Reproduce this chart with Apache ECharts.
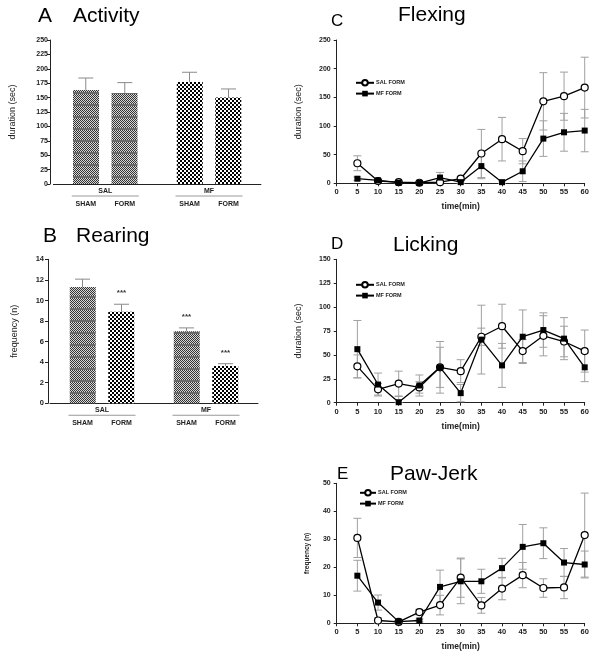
<!DOCTYPE html>
<html><head><meta charset="utf-8">
<script src="https://cdn.jsdelivr.net/npm/echarts@6/dist/echarts.min.js"></script>
<style>html,body{margin:0;padding:0;background:#fff}#c{width:600px;height:656px}</style>
</head><body><div id="c"></div>
<script>
// ---------- data ----------
const groups = ['SAL', 'MF'];
const subgroups = ['SHAM', 'FORM'];

const activitySham = [163, 177];
const activityShamErr = [21, 17];
const activityForm = [158, 150];
const activityFormErr = [18, 15];

const rearingSham = [11.3, 7.0];
const rearingShamErr = [0.77, 0.33];
const rearingForm = [8.9, 3.63];
const rearingFormErr = [0.73, 0.22];
const rearingShamSig = ['', '***'];
const rearingFormSig = ['***', '***'];

const timeMin = [5, 10, 15, 20, 25, 30, 35, 40, 45, 50, 55, 60];

const flexSal = [35, 4, 2, 1, 2, 8, 52, 77, 56, 143, 152, 167];
const flexSalErr = [13, 2, 1, 1, 1, 3, 42, 38, 22, 50, 42, 53];
const flexMf = [8, 5, 1, 0.5, 10, 2, 30, 2, 21, 78, 89, 92];
const flexMfErr = [3, 2, 1, 1, 9, 2, 22, 2, 18, 31, 33, 37];

const lickSal = [38, 14, 20, 16, 37, 33, 69, 80, 54, 70, 64, 54];
const lickSalErr = [12, 6, 13, 6, 21, 12, 9, 23, 12, 21, 16, 22];
const lickMf = [56, 19, 0.5, 18, 37, 10, 66, 39, 69, 76, 67, 37];
const lickMfErr = [30, 12, 6, 11, 27, 9, 36, 23, 28, 18, 22, 15];

const jerkSal = [30.5, 1, 0.5, 4, 6.5, 16.3, 6.4, 12.4, 17.2, 12.6, 12.8, 31.5];
const jerkSalErr = [7, 1, 0.5, 1, 3.5, 7, 2.8, 4, 4.5, 3.3, 4, 15];
const jerkMf = [17, 7.4, 0.6, 1, 13, 15, 15, 19.7, 27.3, 28.6, 21.7, 21];
const jerkMfErr = [5.5, 2.7, 0.5, 0.5, 6, 8, 4.3, 3.5, 8, 5.5, 5, 4.8];

// ---------- styling helpers ----------
const FONT = 'Liberation Sans';
function makePattern(kind) {
  const c = document.createElement('canvas');
  const g = c.getContext('2d');
  if (kind === 'grey') {
    c.width = 4; c.height = 12;
    g.fillStyle = '#d8d8d8'; g.fillRect(0, 0, 4, 12);
    for (let y = 0; y < 12; y++) for (let x = 0; x < 4; x++) {
      if ((x + y) % 2 === 0) { g.fillStyle = '#333'; g.fillRect(x, y, 1, 1); }
    }
    g.fillStyle = '#6a6a6a'; g.fillRect(0, 8, 4, 2);
  } else {
    c.width = 4; c.height = 4;
    g.fillStyle = '#fff'; g.fillRect(0, 0, 4, 4);
    g.fillStyle = '#000'; g.fillRect(0, 0, 2, 2); g.fillRect(2, 2, 2, 2);
  }
  return { image: c, repeat: 'repeat' };
}
const PGREY = makePattern('grey');
const PCHECK = makePattern('check');

const BAR_W = 26, BAR_GAP = '48%', HALF_SEP = 19.5;
const tickLabel = { fontSize: 7, fontWeight: 'bold', color: '#222', fontFamily: FONT };
const axisLine = { lineStyle: { color: '#222', width: 1 } };

function barCatAxis(gi) {
  return {
    type: 'category', gridIndex: gi, data: groups,
    axisLine: axisLine, axisTick: { show: false },
    axisLabel: {
      interval: 0, margin: 3,
      formatter: v => '{g|' + v + '}\n{ln|}\n{s|' + subgroups[0] + '}{s|' + subgroups[1] + '}',
      rich: {
        g: { fontSize: 7, fontWeight: 'bold', color: '#222', lineHeight: 8, fontFamily: FONT },
        ln: { width: 67, height: 1, lineHeight: 2, backgroundColor: '#999' },
        s: { width: 39, align: 'center', fontSize: 7, fontWeight: 'bold', color: '#222', lineHeight: 14, fontFamily: FONT }
      }
    }
  };
}
function valAxis(gi, min, max, interval, name, nameGap, nameStyle, extra) {
  return Object.assign({
    type: 'value', gridIndex: gi, min: min, max: max, interval: interval,
    name: name, nameLocation: 'middle', nameGap: nameGap, nameRotate: 90,
    nameTextStyle: nameStyle,
    axisLine: Object.assign({ show: true }, axisLine),
    axisTick: { show: true, length: 3, lineStyle: { color: '#222' } },
    axisLabel: Object.assign({ margin: 3 }, tickLabel),
    splitLine: { show: false }
  }, extra || {});
}
function timeAxis(gi) {
  return {
    type: 'value', gridIndex: gi, min: 0, max: 60, interval: 5,
    name: 'time(min)', nameLocation: 'middle', nameGap: 19,
    nameTextStyle: { fontSize: 8.5, fontWeight: 'bold', color: '#222', fontFamily: FONT },
    axisLine: axisLine,
    axisTick: { show: true, length: 3, lineStyle: { color: '#222' } },
    axisLabel: Object.assign({ margin: 5 }, tickLabel, { fontSize: 7.5 }),
    splitLine: { show: false }
  };
}
function barSeries(gi, name, values, patterns) {
  return {
    type: 'bar', name: name, xAxisIndex: gi, yAxisIndex: gi,
    barWidth: BAR_W, barGap: BAR_GAP, z: 2,
    data: values.map((v, i) => ({ value: v, itemStyle: { color: patterns[i] } }))
  };
}
function barErr(gi, values, errs, offset, sig) {
  return {
    type: 'custom', xAxisIndex: gi, yAxisIndex: gi, z: 3, silent: true,
    data: values.map((v, i) => [i, v, errs[i]]),
    renderItem(params, api) {
      const x = api.value(0), v = api.value(1), e = api.value(2);
      const p0 = api.coord([x, v]), p1 = api.coord([x, v + e]);
      const cx = p0[0] + offset;
      const st = { stroke: '#8a8a8a', lineWidth: 1 };
      const ch = [
        { type: 'line', shape: { x1: cx, y1: p0[1], x2: cx, y2: p1[1] }, style: st },
        { type: 'line', shape: { x1: cx - 7.5, y1: p1[1], x2: cx + 7.5, y2: p1[1] }, style: st }
      ];
      const s = sig ? sig[params.dataIndex] : '';
      if (s) ch.push({ type: 'text', style: { text: s, x: cx, y: p1[1] - 11, align: 'center', verticalAlign: 'middle', fontSize: 8, fontWeight: 'bold', fill: '#333', fontFamily: FONT } });
      return { type: 'group', children: ch };
    }
  };
}
function lineErr(gi, ys, es) {
  return {
    type: 'custom', xAxisIndex: gi, yAxisIndex: gi, z: 1, silent: true,
    data: timeMin.map((t, i) => [t, ys[i], es[i]]),
    renderItem(params, api) {
      const x = api.value(0), y = api.value(1), e = api.value(2);
      const top = api.coord([x, y + e]), bot = api.coord([x, Math.max(0, y - e)]);
      const st = { stroke: '#a0a0a0', lineWidth: 1 };
      return { type: 'group', children: [
        { type: 'line', shape: { x1: top[0], y1: top[1], x2: bot[0], y2: bot[1] }, style: st },
        { type: 'line', shape: { x1: top[0] - 4, y1: top[1], x2: top[0] + 4, y2: top[1] }, style: st },
        { type: 'line', shape: { x1: bot[0] - 4, y1: bot[1], x2: bot[0] + 4, y2: bot[1] }, style: st }
      ] };
    }
  };
}
function lineSeries(gi, name, ys, open) {
  return {
    type: 'line', name: name, xAxisIndex: gi, yAxisIndex: gi, z: open ? 3 : 4,
    data: timeMin.map((t, i) => [t, ys[i]]),
    symbol: open ? 'circle' : 'rect', symbolSize: open ? 7 : 6,
    showAllSymbol: true,
    itemStyle: open ? { color: '#fff', borderColor: '#000', borderWidth: 1.2 } : { color: '#000', borderColor: '#000', borderWidth: 0 },
    lineStyle: { color: '#000', width: 1.3 }
  };
}
function legendAt(left, top, w) {
  return {
    left: left, top: top, orient: 'vertical', itemWidth: w, itemHeight: 7, itemGap: 4,
    selectedMode: false, padding: 0,
    textStyle: { fontSize: 5.5, fontWeight: 'bold', color: '#222', fontFamily: FONT, padding: [0, 0, 0, -3] },
    data: ['SAL FORM', 'MF FORM']
  };
}
function ttl(text, left, top, size) {
  return { text: text, left: left, top: top, padding: 0,
    textStyle: { fontSize: size, fontWeight: 'normal', color: '#000', fontFamily: FONT } };
}

const durName = { fontSize: 9, color: '#222', fontFamily: FONT };
const freqNameB = { fontSize: 9, color: '#222', fontFamily: FONT };
const freqNameE = { fontSize: 6.5, fontWeight: 'bold', color: '#222', fontFamily: FONT };

const option = {
  animation: false,
  backgroundColor: '#fff',
  title: [
    ttl('A', 38, 6, 21), ttl('Activity', 73, 6, 21),
    ttl('B', 43, 226, 21), ttl('Rearing', 76, 226, 21),
    ttl('C', 331, 13, 17), ttl('Flexing', 398, 5, 21),
    ttl('D', 331, 236, 17), ttl('Licking', 393, 235, 21),
    ttl('E', 337, 466, 17), ttl('Paw-Jerk', 390, 464, 21)
  ],
  legend: [legendAt(355, 79, 18), legendAt(355, 281, 18), legendAt(359, 489, 16)],
  grid: [
    { left: 53.4, top: 40, width: 207.5, height: 144 },
    { left: 50, top: 259.3, width: 208, height: 144 },
    { left: 336.7, top: 40, width: 248, height: 143.3 },
    { left: 336.7, top: 259.3, width: 248, height: 143.4 },
    { left: 336.7, top: 483.3, width: 248, height: 140 }
  ],
  xAxis: [barCatAxis(0), barCatAxis(1), timeAxis(2), timeAxis(3), timeAxis(4)],
  yAxis: [
    valAxis(0, 0, 250, 25, 'duration (sec)', 33, durName, { offset: 3.4, axisLabel: Object.assign({ margin: 2 }, tickLabel) }),
    valAxis(1, 0, 14, 2, 'frequency (n)', 29, freqNameB, { offset: 2, axisLabel: Object.assign({ margin: 4 }, tickLabel, { fontSize: 7.5 }) }),
    valAxis(2, 0, 250, 50, 'duration (sec)', 34, durName, { axisLabel: Object.assign({ margin: 6 }, tickLabel) }),
    valAxis(3, 0, 150, 25, 'duration (sec)', 34, durName, { axisLabel: Object.assign({ margin: 6 }, tickLabel) }),
    valAxis(4, 0, 50, 10, 'frequency (n)', 26, freqNameE, { axisLabel: Object.assign({ margin: 6 }, tickLabel) })
  ],
  series: [
    barSeries(0, 'SHAM', activitySham, [PGREY, PCHECK]),
    barSeries(0, 'FORM', activityForm, [PGREY, PCHECK]),
    barErr(0, activitySham, activityShamErr, -HALF_SEP),
    barErr(0, activityForm, activityFormErr, HALF_SEP),
    barSeries(1, 'SHAM', rearingSham, [PGREY, PGREY]),
    barSeries(1, 'FORM', rearingForm, [PCHECK, PCHECK]),
    barErr(1, rearingSham, rearingShamErr, -HALF_SEP, rearingShamSig),
    barErr(1, rearingForm, rearingFormErr, HALF_SEP, rearingFormSig),

    lineErr(2, flexSal, flexSalErr), lineErr(2, flexMf, flexMfErr),
    lineSeries(2, 'SAL FORM', flexSal, true), lineSeries(2, 'MF FORM', flexMf, false),
    lineErr(3, lickSal, lickSalErr), lineErr(3, lickMf, lickMfErr),
    lineSeries(3, 'SAL FORM', lickSal, true), lineSeries(3, 'MF FORM', lickMf, false),
    lineErr(4, jerkSal, jerkSalErr), lineErr(4, jerkMf, jerkMfErr),
    lineSeries(4, 'SAL FORM', jerkSal, true), lineSeries(4, 'MF FORM', jerkMf, false)
  ]
};
const chart = echarts.init(document.getElementById('c'), null, { renderer: 'canvas' });
chart.setOption(option);
</script></body></html>
